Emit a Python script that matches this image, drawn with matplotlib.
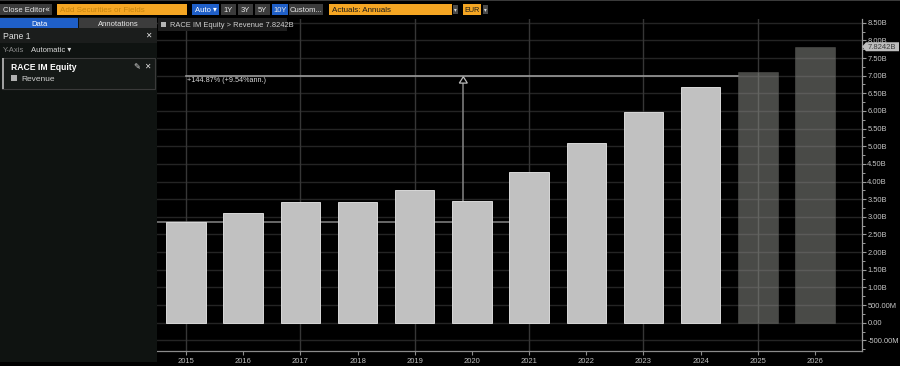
import matplotlib
matplotlib.use("Agg")
import matplotlib.pyplot as plt
from matplotlib.patches import Rectangle, Polygon
from matplotlib.ticker import MultipleLocator, FuncFormatter
from matplotlib import font_manager

# ---------------- data ----------------
years = [2015, 2016, 2017, 2018, 2019, 2020, 2021, 2022, 2023, 2024, 2025, 2026]
revenue_b = [2.85, 3.11, 3.42, 3.42, 3.77, 3.46, 4.27, 5.10, 5.97, 6.68, 7.11, 7.82]
estimate = [False] * 10 + [True, True]
year_labels = [str(y) for y in years]
last_value_label = "7.8242B"
legend_label = "RACE IM Equity > Revenue 7.8242B"
ann_low = 2.85
ann_high = 6.99
ann_arrow_x = 2019.85
ann_low_end = 2020.8
ann_high_end = 2024.65
ann_text = "+144.87% (+9.54%ann.)"

# ---------------- fonts ----------------
avail = {f.name for f in font_manager.fontManager.ttflist}
fam = ["Liberation Sans Narrow", "DejaVu Sans"] if "Liberation Sans Narrow" in avail else ["Liberation Sans", "DejaVu Sans"]
plt.rcParams["font.family"] = fam

W, H = 900, 366
fig = plt.figure(figsize=(W / 100, H / 100), dpi=100, facecolor="black")


def frect(x0, y0, x1, y1, color, z=0, ec=None, lw=0):
    fig.patches.append(Rectangle((x0 / W, 1 - y1 / H), (x1 - x0) / W, (y1 - y0) / H,
                                 transform=fig.transFigure, facecolor=color,
                                 edgecolor=ec if ec else "none", linewidth=lw, zorder=z))


def ftext(x, y, s, color="#e0e0e0", size=5.5, ha="left", weight="normal", z=5, family=None):
    kw = {}
    if family:
        kw["family"] = family
    fig.text(x / W, 1 - y / H, s, color=color, fontsize=size, ha=ha, va="center_baseline",
             fontweight=weight, zorder=z, **kw)


# ---------------- axes ----------------
ax_l, ax_r, ax_t, ax_b = 157, 862, 19, 351
ymin, ymax = -0.802, 8.606
ax = fig.add_axes([ax_l / W, 1 - ax_b / H, (ax_r - ax_l) / W, (ax_b - ax_t) / H])
ax.set_facecolor("black")
ax.set_xlim(2014.493, 2026.822)
ax.set_ylim(ymin, ymax)

# grid
for v in [i * 0.5 for i in range(-1, 18)]:
    ax.axhline(v, color="#242424", lw=1, zorder=1)
for yr in years[::2]:
    ax.axvline(yr, color="#363636", lw=1, zorder=1)

# annotation lines (behind bars)
ax.plot([2014.493, ann_low_end], [ann_low, ann_low], color="#858585", lw=1.1, zorder=2)
ax.plot([years[0], ann_high_end], [ann_high, ann_high], color="#9a9a9a", lw=1.2, zorder=2)
ax.plot([ann_arrow_x, ann_arrow_x], [ann_low, ann_high - 0.12], color="#858585", lw=1.1, zorder=2)
ax.add_patch(Polygon([[ann_arrow_x - 0.07, ann_high - 0.2], [ann_arrow_x + 0.07, ann_high - 0.2],
                      [ann_arrow_x, ann_high - 0.02]], closed=True, facecolor="black",
                     edgecolor="#bbbbbb", lw=0.9, zorder=2.5))
ax.text(years[0] + 0.02, ann_high - 0.13, ann_text, color="#d8d8d8", fontsize=5.2, va="center",
        ha="left", zorder=6)

# bars
for yr, v, est in zip(years, revenue_b, estimate):
    if est:
        ax.bar(yr, v, width=0.69, color="#8e8f8a", alpha=0.52, edgecolor="#5c5d59", lw=0.6, zorder=3)
    else:
        ax.bar(yr, v, width=0.69, color="#c1c1c1", edgecolor="#d9d9d9", lw=0.7, zorder=3)

# axes styling
for s in ["left", "top"]:
    ax.spines[s].set_visible(False)
ax.spines["right"].set_color("#9a9a9a")
ax.spines["bottom"].set_color("#8a8a8a")
ax.spines["right"].set_linewidth(0.9)
ax.spines["bottom"].set_linewidth(0.9)
ax.yaxis.tick_right()
ax.yaxis.set_major_locator(MultipleLocator(0.5))
ax.yaxis.set_minor_locator(MultipleLocator(0.25))


def yfmt(v, pos):
    if abs(v) < 1e-9:
        return "0.00"
    if abs(v) < 1:
        return f"{v * 1000:.2f}M"
    return f"{v:.2f}B"


ax.yaxis.set_major_formatter(FuncFormatter(yfmt))
ax.tick_params(axis="y", which="major", colors="#9a9a9a", labelcolor="#c8c8c8", labelsize=5.4,
               length=3, width=0.8, pad=0.8)
ax.tick_params(axis="y", which="minor", colors="#9a9a9a", length=2, width=0.7)
ax.set_xticks(years)
ax.set_xticklabels(year_labels)
ax.tick_params(axis="x", colors="#8a8a8a", labelcolor="#c0c0c0", labelsize=5.5, length=3,
               width=0.8, pad=2)

# last value tag
tag_ypx = ax_b - (revenue_b[-1] - ymin) / (ymax - ymin) * (ax_b - ax_t)
fig.patches.append(Polygon([[862 / W, 1 - tag_ypx / H], [866 / W, 1 - (tag_ypx - 4.5) / H],
                            [899 / W, 1 - (tag_ypx - 4.5) / H], [899 / W, 1 - (tag_ypx + 4.5) / H],
                            [866 / W, 1 - (tag_ypx + 4.5) / H]], closed=True,
                           transform=fig.transFigure, facecolor="#bdbdbd", edgecolor="none", zorder=10))
ftext(882, tag_ypx, last_value_label, color="#3a3a3a", size=5.5, ha="center", z=11)

# legend box in chart
frect(158, 18, 287, 31, "#1e1e1e", z=10)
frect(161, 22, 166, 27, "#b5b5b5", z=11)
ftext(170, 24.5, legend_label, color="#d0d0d0", size=5.4, z=12)

# ---------------- toolbar ----------------
frect(0, 0, W, 1, "#3a3a3a")
frect(0, 4, 52, 15, "#3b3b3b", z=1)
ftext(3, 9.5, "Close Editor", color="#e8e8e8", size=5.5)
ftext(44, 9.5, "«", color="#e8e8e8", size=6, family=["DejaVu Sans"])
frect(57, 4, 187, 15, "#f5a623", z=1)
ftext(60, 9.5, "Add Securities or Fields", color="#c8860f", size=5.8)
frect(192, 4, 219, 15, "#1f5fc8", z=1)
ftext(195, 9.5, "Auto ▾", color="#ffffff", size=5.5)
for x0, x1, lab, c in [(221, 236, "1Y", "#3b3b3b"), (238, 253, "3Y", "#3b3b3b"),
                       (255, 270, "5Y", "#3b3b3b"), (272, 288, "10Y", "#1f5fc8"),
                       (289, 323, "Custom...", "#3b3b3b")]:
    frect(x0, 4, x1, 15, c, z=1)
    ftext((x0 + x1) / 2, 9.5, lab, color="#e8e8e8", size=5.5, ha="center")
frect(329, 4, 452, 15, "#f5a623", z=1)
ftext(332, 9.5, "Actuals: Annuals", color="#1a1a1a", size=5.8)
frect(453, 5, 458, 14, "#4a4a4a", z=1)
ftext(455.5, 9.5, "▾", color="#dddddd", size=4, ha="center")
frect(463, 4, 481, 15, "#f5a623", z=1)
ftext(472, 9.5, "EUR", color="#1a1a1a", size=5.2, ha="center")
frect(483, 5, 488, 14, "#4a4a4a", z=1)
ftext(485.5, 9.5, "▾", color="#dddddd", size=4, ha="center")

# ---------------- left panel ----------------
frect(0, 17, 157, 362, "#0f1311", z=1)
frect(0, 18, 78, 28, "#1f5fc8", z=2)
ftext(39, 23, "Data", color="#ffffff", size=5.5, ha="center")
frect(79, 18, 157, 28, "#3c3c3c", z=2)
ftext(118, 23, "Annotations", color="#e8e8e8", size=5.5, ha="center")
frect(0, 28, 157, 43, "#1b1d1c", z=2)
ftext(3, 35.5, "Pane 1", color="#e0e0e0", size=6.2)
ftext(148, 35.5, "✕", color="#e0e0e0", size=5.5, ha="center")
ftext(3, 50, "Y-Axis", color="#8a8a8a", size=5.5)
ftext(31, 50, "Automatic ▾", color="#d8d8d8", size=5.5)
frect(2, 58, 155, 89, "#151917", z=2, ec="#3a3a3a", lw=0.8)
frect(2, 58, 4, 89, "#a0a0a0", z=3)
ftext(11, 66.5, "RACE IM Equity", color="#ffffff", size=6.2, weight="bold")
ftext(137, 66.5, "✎", color="#e0e0e0", size=6, ha="center")
ftext(147, 66.5, "✕", color="#e0e0e0", size=5.5, ha="center")
frect(11, 75, 17, 81, "#b0b0b0", z=3)
ftext(21, 78.2, "Revenue", color="#d0d0d0", size=6)

fig.savefig("out.png", dpi=100, facecolor="black")
